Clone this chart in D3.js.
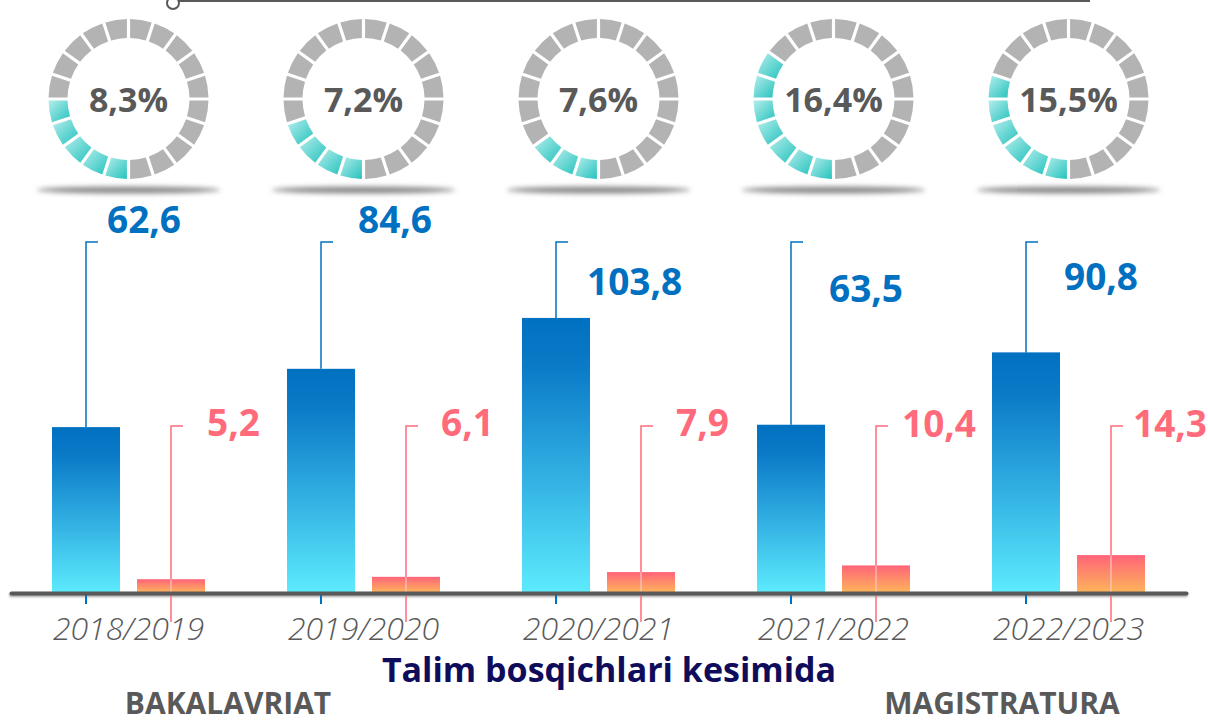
<!DOCTYPE html>
<html lang="en">
<head>
    <meta charset="UTF-8">
    <title>Talim bosqichlari kesimida</title>
    <script src="https://d3js.org/d3.v7.min.js"></script>
    <style>
        body { margin: 0; background: #fff; }
        svg { display: block; }
    </style>
</head>
<body>
    <script>
    // chart data
    const years = ["2018/2019", "2019/2020", "2020/2021", "2021/2022", "2022/2023"];
    const bakalavriat = [62.6, 84.6, 103.8, 63.5, 90.8];
    const magistratura = [5.2, 6.1, 7.9, 10.4, 14.3];
    const shares = [8.3, 7.2, 7.6, 16.4, 15.5];
    const filledSegments = [5, 4, 3, 7, 6];   // teal pieces in each ring

    // label nudges [dx, dy] from the callout hook
    const blueNudge = [[21, -24], [37, -24], [31, 38], [38, 45], [38, 33]];
    const pinkNudge = [[36, -5], [35, -5], [35, -5], [26, -4], [22, -4]];

    const fmt = v => String(v).replace(".", ",");

    const W = 1208, H = 723;
    const axisY = 593;

    const svg = d3.select("body").append("svg")
        .attr("width", W)
        .attr("height", H);

    const defs = svg.append("defs");

    const gBlue = defs.append("linearGradient").attr("id", "gBlue")
        .attr("x1", 0).attr("y1", 0).attr("x2", 0).attr("y2", 1);
    gBlue.append("stop").attr("offset", 0).attr("stop-color", "#0070C0");
    gBlue.append("stop").attr("offset", 0.18).attr("stop-color", "#0B7BC8");
    gBlue.append("stop").attr("offset", 0.6).attr("stop-color", "#34B3E4");
    gBlue.append("stop").attr("offset", 1).attr("stop-color", "#5DEBFD");

    const gPink = defs.append("linearGradient").attr("id", "gPink")
        .attr("x1", 0).attr("y1", 0).attr("x2", 0).attr("y2", 1);
    gPink.append("stop").attr("offset", 0).attr("stop-color", "#FF6479");
    gPink.append("stop").attr("offset", 1).attr("stop-color", "#FDB65A");

    const gTeal = defs.append("linearGradient").attr("id", "gTeal")
        .attr("x1", 0).attr("y1", 0).attr("x2", 1).attr("y2", 1);
    gTeal.append("stop").attr("offset", 0).attr("stop-color", "#B4EEEC");
    gTeal.append("stop").attr("offset", 1).attr("stop-color", "#26C2BD");

    const blur = defs.append("filter").attr("id", "blur")
        .attr("x", "-20%").attr("y", "-200%").attr("width", "140%").attr("height", "500%");
    blur.append("feGaussianBlur").attr("stdDeviation", 2.5);

    const lineBlur = defs.append("filter").attr("id", "lineBlur")
        .attr("filterUnits", "userSpaceOnUse")
        .attr("x", 0).attr("y", axisY - 10).attr("width", W).attr("height", 30);
    lineBlur.append("feGaussianBlur").attr("stdDeviation", 1.3);

    // scales
    const x0 = d3.scaleBand()
        .domain(years)
        .range([11, 1186])
        .paddingInner(0.349)
        .paddingOuter(0.1745);

    const x1 = d3.scaleBand()
        .domain(["bak", "mag"])
        .range([0, x0.bandwidth()])
        .paddingInner(0.2);

    const y = d3.scaleLinear()
        .domain([0, 100])
        .range([axisY, 328]);

    // top connector line
    svg.append("line")
        .attr("x1", 179).attr("x2", 1090)
        .attr("y1", 1).attr("y2", 1)
        .attr("stroke", "#595959").attr("stroke-width", 2);
    svg.append("circle")
        .attr("cx", 173).attr("cy", 3).attr("r", 6)
        .attr("fill", "#fff").attr("stroke", "#595959").attr("stroke-width", 2);

    // rings
    const nSeg = 20;
    const segAngle = 2 * Math.PI / nSeg;
    const arc = d3.arc()
        .innerRadius(61)
        .outerRadius(80)
        .padAngle(0.04)
        .padRadius(80);

    const rings = svg.selectAll(".ring")
        .data(years)
        .join("g")
        .attr("class", "ring")
        .attr("transform", d => `translate(${x0(d) + x0.bandwidth() / 2},99)`);

    rings.append("ellipse")
        .attr("cx", 0).attr("cy", 91)
        .attr("rx", 92).attr("ry", 3.5)
        .attr("fill", "#8a8a8a")
        .attr("filter", "url(#blur)");

    rings.each(function(d, i) {
        const segs = d3.range(nSeg).map(k => ({
            startAngle: Math.PI + k * segAngle,
            endAngle: Math.PI + (k + 1) * segAngle,
            on: k < filledSegments[i]
        }));
        d3.select(this).selectAll("path")
            .data(segs)
            .join("path")
            .attr("d", arc)
            .attr("fill", s => s.on ? "url(#gTeal)" : "#B3B3B3");
    });

    rings.append("text")
        .attr("text-anchor", "middle")
        .attr("dominant-baseline", "central")
        .attr("y", 0)
        .attr("font-family", "'Open Sans', sans-serif")
        .attr("font-weight", 700)
        .attr("font-size", 34)
        .attr("fill", "#595959")
        .text((d, i) => fmt(shares[i]) + "%");

    // bars
    const groups = svg.selectAll(".grp")
        .data(years)
        .join("g")
        .attr("class", "grp")
        .attr("transform", d => `translate(${x0(d)},0)`);

    const bw = x1.bandwidth();
    const bx = x1("bak") + bw / 2;
    const px = x1("mag") + bw / 2;

    // pink callout lines (behind bars)
    groups.append("path")
        .attr("d", `M${px},622V426H${px + 12}`)
        .attr("fill", "none")
        .attr("stroke", "#FF6B7A")
        .attr("stroke-width", 1.5);

    groups.append("rect")
        .attr("x", x1("bak"))
        .attr("width", bw)
        .attr("y", (d, i) => y(bakalavriat[i]))
        .attr("height", (d, i) => axisY - y(bakalavriat[i]))
        .attr("fill", "url(#gBlue)");

    groups.append("rect")
        .attr("x", x1("mag"))
        .attr("width", bw)
        .attr("y", (d, i) => y(magistratura[i]))
        .attr("height", (d, i) => axisY - y(magistratura[i]))
        .attr("fill", "url(#gPink)");

    // pink line seen faintly over the bar
    groups.append("line")
        .attr("x1", px).attr("x2", px)
        .attr("y1", (d, i) => y(magistratura[i]))
        .attr("y2", axisY)
        .attr("stroke", "#FFD3D8")
        .attr("stroke-width", 1);

    // blue callout lines
    groups.append("path")
        .attr("d", (d, i) => `M${bx},${y(bakalavriat[i])}V242H${bx + 12}`)
        .attr("fill", "none")
        .attr("stroke", "#0070C0")
        .attr("stroke-width", 1.5);

    groups.append("line")
        .attr("x1", bx).attr("x2", bx)
        .attr("y1", axisY).attr("y2", axisY + 11)
        .attr("stroke", "#0070C0")
        .attr("stroke-width", 2);

    // value labels
    groups.append("text")
        .attr("x", (d, i) => bx + blueNudge[i][0])
        .attr("y", (d, i) => 242 + blueNudge[i][1])
        .attr("dominant-baseline", "central")
        .attr("font-family", "'Open Sans', sans-serif")
        .attr("font-weight", 700)
        .attr("font-size", 37)
        .attr("fill", "#0070C0")
        .text((d, i) => fmt(bakalavriat[i]));

    groups.append("text")
        .attr("x", (d, i) => px + pinkNudge[i][0])
        .attr("y", (d, i) => 426 + pinkNudge[i][1])
        .attr("dominant-baseline", "central")
        .attr("font-family", "'Open Sans', sans-serif")
        .attr("font-weight", 700)
        .attr("font-size", 37)
        .attr("fill", "#FF6B7A")
        .text((d, i) => fmt(magistratura[i]));

    // x axis
    const xAxis = svg.append("g")
        .attr("transform", `translate(0,${axisY})`)
        .call(d3.axisBottom(x0).tickSize(0).tickSizeOuter(0).tickPadding(24));

    // soft shadow under the axis line
    svg.insert("line", "g.grp")
        .attr("x1", x0.range()[0]).attr("x2", x0.range()[1])
        .attr("y1", axisY + 2).attr("y2", axisY + 2)
        .attr("stroke", "#000").attr("stroke-opacity", 0.35)
        .attr("stroke-width", 4)
        .attr("stroke-linecap", "round")
        .attr("filter", "url(#lineBlur)");

    xAxis.select(".domain")
        .attr("stroke", "#595959")
        .attr("stroke-width", 4)
        .attr("stroke-linecap", "round");

    xAxis.selectAll(".tick text")
        .attr("font-family", "'Open Sans', sans-serif")
        .attr("font-style", "italic")
        .attr("font-weight", 300)
        .attr("font-size", 32)
        .attr("fill", "#595959");

    // titles
    svg.append("text")
        .attr("x", 609).attr("y", 682)
        .attr("text-anchor", "middle")
        .attr("font-family", "'Open Sans', sans-serif")
        .attr("font-weight", 700)
        .attr("font-size", 34)
        .attr("fill", "#0F0C5C")
        .text("Talim bosqichlari kesimida");

    svg.append("text")
        .attr("x", 228).attr("y", 714)
        .attr("text-anchor", "middle")
        .attr("font-family", "'Open Sans', sans-serif")
        .attr("font-weight", 700)
        .attr("font-size", 30)
        .attr("fill", "#595959")
        .text("BAKALAVRIAT");

    svg.append("text")
        .attr("x", 1002).attr("y", 714)
        .attr("text-anchor", "middle")
        .attr("font-family", "'Open Sans', sans-serif")
        .attr("font-weight", 700)
        .attr("font-size", 30)
        .attr("fill", "#595959")
        .text("MAGISTRATURA");
    </script>
</body>
</html>
